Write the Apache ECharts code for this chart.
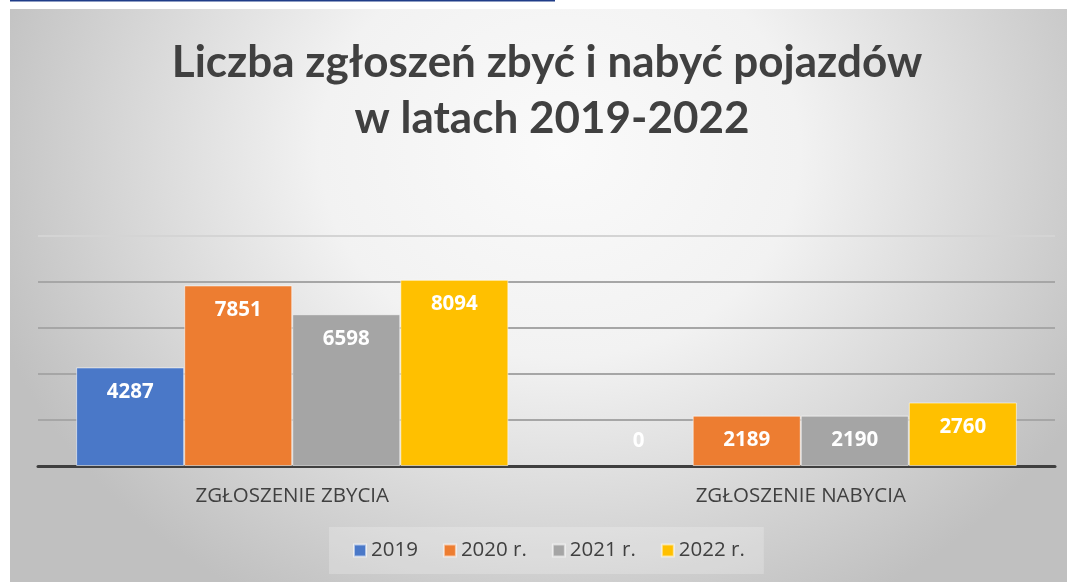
<!DOCTYPE html>
<html>
<head>
<meta charset="utf-8">
<script src="https://cdn.jsdelivr.net/npm/echarts@6/dist/echarts.min.js"></script>
<style>
  html, body { margin: 0; padding: 0; background: #ffffff; }
  #panel { position: absolute; left: 10px; top: 9px; width: 1057px; height: 573px;
    background: radial-gradient(600px 520px at 550px 141px, #fafafa 0%, #f2f2f2 40%, #c4c4c4 95%, #c0c0c0 100%); }
  #chart { position: absolute; left: 0; top: 0; width: 1067px; height: 582px; }
</style>
</head>
<body>
<div id="panel"></div>
<div id="chart"></div>
<script>
const titleLines = ['Liczba zgłoszeń zbyć i nabyć pojazdów', 'w latach 2019-2022'];
const categories = ['ZGŁOSZENIE ZBYCIA', 'ZGŁOSZENIE NABYCIA'];
const seriesNames = ['2019', '2020 r.', '2021 r.', '2022 r.'];
const values2019 = [4287, 0];
const values2020 = [7851, 2189];
const values2021 = [6598, 2190];
const values2022 = [8094, 2760];
const colors = ['#4a78c8', '#ed7d31', '#a5a5a5', '#ffc000'];

const allValues = [values2019, values2020, values2021, values2022];

const chart = echarts.init(document.getElementById('chart'), null, { renderer: 'canvas' });

const series = seriesNames.map((name, i) => ({
  name: name,
  type: 'bar',
  barGap: '0%',
  barCategoryGap: '15%',
  itemStyle: { color: colors[i], borderColor: 'rgba(255,255,255,0.55)', borderWidth: 1 },
  label: {
    show: true,
    position: 'insideTop',
    distance: 14,
    color: '#ffffff',
    fontFamily: 'Open Sans',
    fontWeight: 'bold',
    fontSize: 20.5
  },
  data: allValues[i].map(v => v === 0
    ? { value: v, itemStyle: { borderWidth: 0 }, label: { position: 'insideBottom', distance: 14 } }
    : v)
}));

chart.setOption({
  backgroundColor: 'transparent',
  animation: false,
  color: colors,
  grid: { left: 38, right: 12, top: 236, bottom: 116, containLabel: false },
  xAxis: {
    type: 'category',
    data: categories,
    axisLine: { show: true, lineStyle: { color: '#3f3f3f', width: 3 } },
    axisTick: { show: false },
    axisLabel: { color: '#404040', fontFamily: 'Open Sans', fontSize: 20.5, margin: 20 }
  },
  yAxis: {
    type: 'value',
    min: 0,
    max: 10000,
    interval: 2000,
    axisLine: { show: false },
    axisTick: { show: false },
    axisLabel: { show: false },
    splitLine: { show: true, lineStyle: { color: ['#a6a6a6', '#a6a6a6', '#a6a6a6', '#a6a6a6', '#a6a6a6', '#d4d4d4'], width: 2 } }
  },
  legend: {
    data: seriesNames,
    left: 329,
    top: 527,
    padding: [13, 19, 13, 24],
    backgroundColor: 'rgba(255,255,255,0.22)',
    itemWidth: 12,
    itemHeight: 12,
    itemGap: 25,
    icon: 'rect',
    textStyle: { color: '#404040', fontFamily: 'Open Sans', fontSize: 20.5 }
  },
  graphic: [
    { type: 'rect', shape: { x: 10, y: 0, width: 545, height: 1.5 }, style: { fill: '#1f3c88' }, silent: true },
    { type: 'text', x: 547, y: 63, style: { text: titleLines[0], align: 'center', verticalAlign: 'middle', font: 'bold 44px Lato', fill: '#404040' } },
    { type: 'text', x: 552, y: 119, style: { text: titleLines[1], align: 'center', verticalAlign: 'middle', font: 'bold 44px Lato', fill: '#404040' } }
  ],
  series: series
});
</script>
</body>
</html>
